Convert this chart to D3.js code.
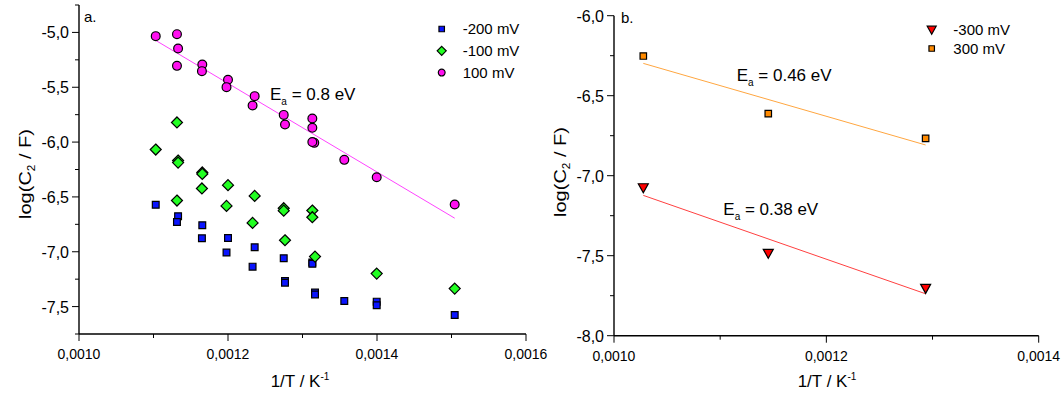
<!DOCTYPE html>
<html><head><meta charset="utf-8">
<script src="https://cdn.jsdelivr.net/npm/d3@7"></script>
<style>
body{margin:0;background:#fff;}
svg{display:block;font-family:Arial,"Liberation Sans",sans-serif;}
</style></head>
<body><svg id="c" width="1062" height="398"></svg>
<script>
// ---------- Data (panel a) ----------
const xA_200 = [0.001103,0.001133,0.0011315,0.0011655,0.001165,0.0012,0.001198,0.0012358,0.001233,0.0012748,0.0012765,0.0012765,0.0013132,0.0013132,0.0013168,0.0013168,0.0013561,0.0013996,0.0013996,0.0015043];
const yA_200 = [-6.572,-6.676,-6.728,-6.758,-6.877,-6.874,-7.007,-6.959,-7.136,-7.059,-7.266,-7.282,-7.098,-7.11,-7.372,-7.39,-7.449,-7.455,-7.488,-7.577];
const xA_100n = [0.001103,0.0011315,0.001133,0.001133,0.0011315,0.0011655,0.0011655,0.001165,0.0012,0.001198,0.0012358,0.001233,0.0012748,0.0012748,0.0012765,0.0013132,0.0013132,0.0013168,0.0013996,0.0015043];
const yA_100n = [-6.068,-5.821,-6.168,-6.187,-6.533,-6.277,-6.29,-6.423,-6.393,-6.582,-6.491,-6.737,-6.603,-6.625,-6.895,-6.624,-6.685,-7.044,-7.199,-7.336];
const xA_100p = [0.001103,0.0011315,0.001133,0.0011315,0.0011655,0.001165,0.0012,0.001198,0.0012358,0.001233,0.0012748,0.0012765,0.0013132,0.0013132,0.0013158,0.0013132,0.0013561,0.0013996,0.0015043];
const yA_100p = [-5.034,-5.016,-5.146,-5.305,-5.292,-5.353,-5.432,-5.499,-5.581,-5.666,-5.752,-5.839,-5.785,-5.870,-6.007,-6.0,-6.162,-6.320,-6.569];
const fitA_x = [0.001103,0.0015043];
const fitA_y = [-5.073,-6.694];
const labelsA = ["-200 mV","-100 mV","100 mV"];
const xTicksA = [0.0010,0.0012,0.0014,0.0016];
const yTicksA = [-5.0,-5.5,-6.0,-6.5,-7.0,-7.5];

// ---------- Data (panel b) ----------
const xB = [0.0010276,0.0011453,0.0012935];
const yB_300n = [-7.077,-7.487,-7.706];
const yB_300p = [-6.252,-6.612,-6.767];
const fitB_x = [0.0010276,0.0012935];
const fitB_300n = [-7.123,-7.738];
const fitB_300p = [-6.298,-6.808];
const labelsB = ["-300 mV","300 mV"];
const xTicksB = [0.0010,0.0012,0.0014];
const yTicksB = [-6.0,-6.5,-7.0,-7.5,-8.0];

const svg = d3.select("#c");
const fmtX = d => d.toFixed(4).replace(".", ",");
const fmtY = d => d.toFixed(1).replace(".", ",");

function axes(x, y, xt, xminor, yt, yminor) {
  const g = svg.append("g");
  const [x0,x1] = x.range(), [y0,y1] = y.range();
  g.append("line").attr("x1",x0).attr("x2",x1).attr("y1",y0).attr("y2",y0).attr("stroke","#000").attr("stroke-width",1.4);
  g.append("line").attr("x1",x0).attr("x2",x0).attr("y1",y0).attr("y2",y1).attr("stroke","#000").attr("stroke-width",1.4);
  xt.forEach(t => {
    g.append("line").attr("x1",x(t)).attr("x2",x(t)).attr("y1",y0).attr("y2",y0+7).attr("stroke","#000");
    g.append("text").attr("x",x(t)).attr("y",y0+25).attr("text-anchor","middle").attr("font-size",14).text(fmtX(t));
  });
  xminor.forEach(t => g.append("line").attr("x1",x(t)).attr("x2",x(t)).attr("y1",y0).attr("y2",y0+4).attr("stroke","#000"));
  yt.forEach(t => {
    g.append("line").attr("x1",x0-7).attr("x2",x0).attr("y1",y(t)).attr("y2",y(t)).attr("stroke","#000");
    g.append("text").attr("x",x0-10).attr("y",y(t)+6).attr("text-anchor","end").attr("font-size",16).text(fmtY(t));
  });
  yminor.forEach(t => g.append("line").attr("x1",x0-4).attr("x2",x0).attr("y1",y(t)).attr("y2",y(t)).attr("stroke","#000"));
}

function yLabel(cx, cy) {
  const t = svg.append("text").attr("transform",`translate(${cx},${cy}) rotate(-90) scale(1.18,1)`).attr("text-anchor","middle").attr("font-size",17);
  t.append("tspan").text("log(C");
  t.append("tspan").attr("font-size",10).attr("dy",4).text("2");
  t.append("tspan").attr("dy",-4).text(" / F)");
}
function xLabel(cx, by) {
  const t = svg.append("text").attr("x",cx).attr("y",by).attr("text-anchor","middle").attr("font-size",17);
  t.append("tspan").text("1/T / K");
  t.append("tspan").attr("font-size",10).attr("dy",-7).text("-1");
}
function eaLabel(x0, by, val) {
  const t = svg.append("text").attr("x",x0).attr("y",by).attr("font-size",17);
  t.append("tspan").text("E");
  t.append("tspan").attr("font-size",10).attr("dy",5).text("a");
  t.append("tspan").attr("dy",-5).text(" = " + val);
}

const diamond = s => { const h=s/2; return `M0,${-h}L${h},0L0,${h}L${-h},0Z`; };
const tri = s => { const h=s/2; return `M${-h},${-h*0.85}L${h},${-h*0.85}L0,${h*0.95}Z`; };

// ---------- Panel a ----------
const xa = d3.scaleLinear().domain([0.0010,0.0016]).range([79,526]);
const ya = d3.scaleLinear().domain([-7.75,-4.75]).range([334,5]);
axes(xa, ya, xTicksA, [0.0011,0.0013,0.0015], yTicksA, d3.range(-7.75,-4.7,0.5));

svg.append("line").attr("x1",xa(fitA_x[0])).attr("y1",ya(fitA_y[0])).attr("x2",xa(fitA_x[1])).attr("y2",ya(fitA_y[1]))
  .attr("stroke","#ff44ff").attr("stroke-width",1);

svg.append("g").selectAll("path").data(xA_200).join("path")
  .attr("transform",(d,i)=>`translate(${xa(d)},${ya(yA_200[i])})`)
  .attr("d", d3.symbol().type(d3.symbolSquare).size(46)()).attr("fill","#0a14ff").attr("stroke","#000").attr("stroke-width",1.2);
svg.append("g").selectAll("path").data(xA_100n).join("path")
  .attr("transform",(d,i)=>`translate(${xa(d)},${ya(yA_100n[i])})`)
  .attr("d", diamond(11)).attr("fill","#22ff22").attr("stroke","#000").attr("stroke-width",1.2);
svg.append("g").selectAll("circle").data(xA_100p).join("circle")
  .attr("cx",d=>xa(d)).attr("cy",(d,i)=>ya(yA_100p[i])).attr("r",4.4)
  .attr("fill","#ff10f0").attr("stroke","#000").attr("stroke-width",1.2);

svg.append("text").attr("x",84).attr("y",22).attr("font-size",15).text("a.");
eaLabel(270, 100, "0.8 eV");

const legA = [
  {d: d3.symbol().type(d3.symbolSquare).size(30)(), fill:"#0a14ff"},
  {d: diamond(9), fill:"#22ff22"},
  {d: d3.symbol().type(d3.symbolCircle).size(36)(), fill:"#ff10f0"}
];
labelsA.forEach((lab,i) => {
  const yy = 29 + i*21.8;
  svg.append("path").attr("transform",`translate(441.7,${yy})`).attr("d",legA[i].d).attr("fill",legA[i].fill).attr("stroke","#000").attr("stroke-width",1.2);
  svg.append("text").attr("x",462.7).attr("y",yy+5).attr("font-size",15).text(lab);
});

yLabel(31, 174);
xLabel(300, 387);

// ---------- Panel b ----------
const xb = d3.scaleLinear().domain([0.0010,0.0014]).range([614,1038.7]);
const yb = d3.scaleLinear().domain([-8.0,-6.0]).range([335.7,15.7]);
axes(xb, yb, xTicksB, [0.0011,0.0013], yTicksB, d3.range(-7.75,-6.0,0.5));

svg.append("line").attr("x1",xb(fitB_x[0])).attr("y1",yb(fitB_300p[0])).attr("x2",xb(fitB_x[1])).attr("y2",yb(fitB_300p[1]))
  .attr("stroke","#ffa640").attr("stroke-width",1);
svg.append("line").attr("x1",xb(fitB_x[0])).attr("y1",yb(fitB_300n[0])).attr("x2",xb(fitB_x[1])).attr("y2",yb(fitB_300n[1]))
  .attr("stroke","#ff4040").attr("stroke-width",1);

svg.append("g").selectAll("path").data(xB).join("path")
  .attr("transform",(d,i)=>`translate(${xb(d)},${yb(yB_300p[i])})`)
  .attr("d", d3.symbol().type(d3.symbolSquare).size(42)()).attr("fill","#ff8a00").attr("stroke","#000").attr("stroke-width",1.2);
svg.append("g").selectAll("path").data(xB).join("path")
  .attr("transform",(d,i)=>`translate(${xb(d)},${yb(yB_300n[i])})`)
  .attr("d", tri(10)).attr("fill","#ff0000").attr("stroke","#000").attr("stroke-width",1.2);

svg.append("text").attr("x",621).attr("y",23).attr("font-size",15).text("b.");
eaLabel(736.7, 81, "0.46 eV");
eaLabel(723.3, 215, "0.38 eV");

const legB = [{d: tri(9), fill:"#ff0000"},{d: d3.symbol().type(d3.symbolSquare).size(30)(), fill:"#ff8a00"}];
labelsB.forEach((lab,i) => {
  const yy = 30 + i*18.5;
  svg.append("path").attr("transform",`translate(931.7,${yy})`).attr("d",legB[i].d).attr("fill",legB[i].fill).attr("stroke","#000").attr("stroke-width",1.2);
  svg.append("text").attr("x",953.3).attr("y",yy+5).attr("font-size",15).text(lab);
});

yLabel(566, 172);
xLabel(827, 387);
</script></body></html>
